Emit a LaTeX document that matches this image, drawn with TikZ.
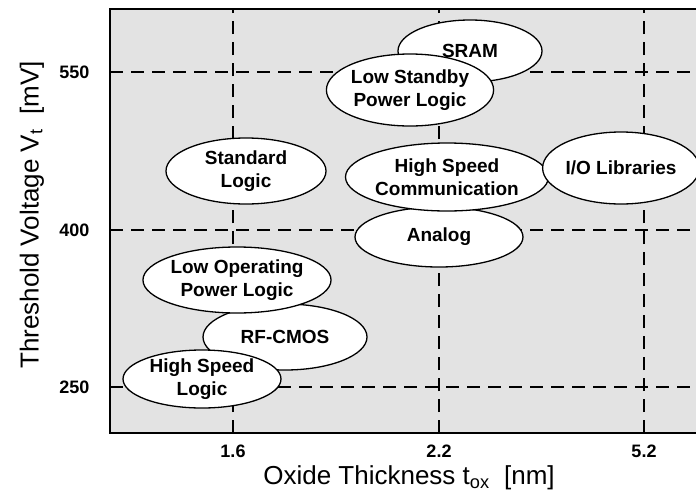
\documentclass[tikz,border=0pt]{standalone}
\usepackage{fontspec}
\setmainfont{Liberation Sans}
\usetikzlibrary{shapes.geometric}

\definecolor{plotgray}{HTML}{E3E3E3}

\tikzset{
  app/.style={ellipse, draw=black, line width=1.3pt, fill=white, inner sep=0pt,
    align=center, font=\fontsize{19}{23}\selectfont\bfseries},
  gridline/.style={black, line width=1.8pt, dash pattern=on 13pt off 8pt},
  ticklabel/.style={font=\fontsize{18}{20}\selectfont\bfseries},
  axistitle/.style={font=\fontsize{26}{28}\selectfont},
}

\begin{document}
\begin{tikzpicture}[x=1pt, y=-1pt]
    \useasboundingbox (0,0) rectangle (696,493);

    % plot area
    \fill[plotgray] (110,9) rectangle (696,433);

    % grid
    \foreach \gx in {233,439,644} {
        \draw[gridline] (\gx,433) -- (\gx,9);
    }
    \foreach \gy in {72,230,387} {
        \draw[gridline] (110,\gy) -- (696,\gy);
    }

    % frame, open on the right
    \draw[line width=2.6pt] (696,9) -- (110,9) -- (110,433) -- (696,433);

    % tick labels
    \node[ticklabel, anchor=east] (v550) at (93,72) {550};
    \node[ticklabel, anchor=east] (v400) at (93,230) {400};
    \node[ticklabel, anchor=east] (v250) at (93,387) {250};
    \node[ticklabel] (t16) at (233,451) {1.6};
    \node[ticklabel] (t22) at (439,451) {2.2};
    \node[ticklabel] (t52) at (644,451) {5.2};

    % axis titles
    \node[axistitle] (xtitle) at (409,478)
        {Oxide Thickness t\textsubscript{ox}\ \ [nm]};
    \node[axistitle, rotate=90] (ytitle) at (32,215)
        {Threshold Voltage V\textsubscript{t}\ \ [mV]};

    % application regions
    \node[app, minimum width=144pt, minimum height=62pt] (sram) at (470,51) {SRAM};
    \node[app, minimum width=164pt, minimum height=72pt] (lspl) at (410,90) {Low Standby\\Power Logic};
    \node[app, minimum width=160pt, minimum height=66pt] (std) at (246,171) {Standard\\Logic};
    \node[app, minimum width=168pt, minimum height=60pt] (analog) at (439,237) {Analog};
    \node[app, minimum width=184pt, minimum height=68pt] (hsc) at (447,177) {High Speed\\Communication};
    \node[app, minimum width=146pt, minimum height=72pt] (io) at (621,168) {I/O Libraries};
    \node[app, minimum width=164pt, minimum height=66pt] (rf) at (285,337) {RF-CMOS};
    \node[app, minimum width=172pt, minimum height=66pt] (lopl) at (237,280) {Low Operating\\Power Logic};
    \node[app, minimum width=158pt, minimum height=58pt] (hsl) at (202,379) {High Speed\\Logic};
\end{tikzpicture}
\end{document}
